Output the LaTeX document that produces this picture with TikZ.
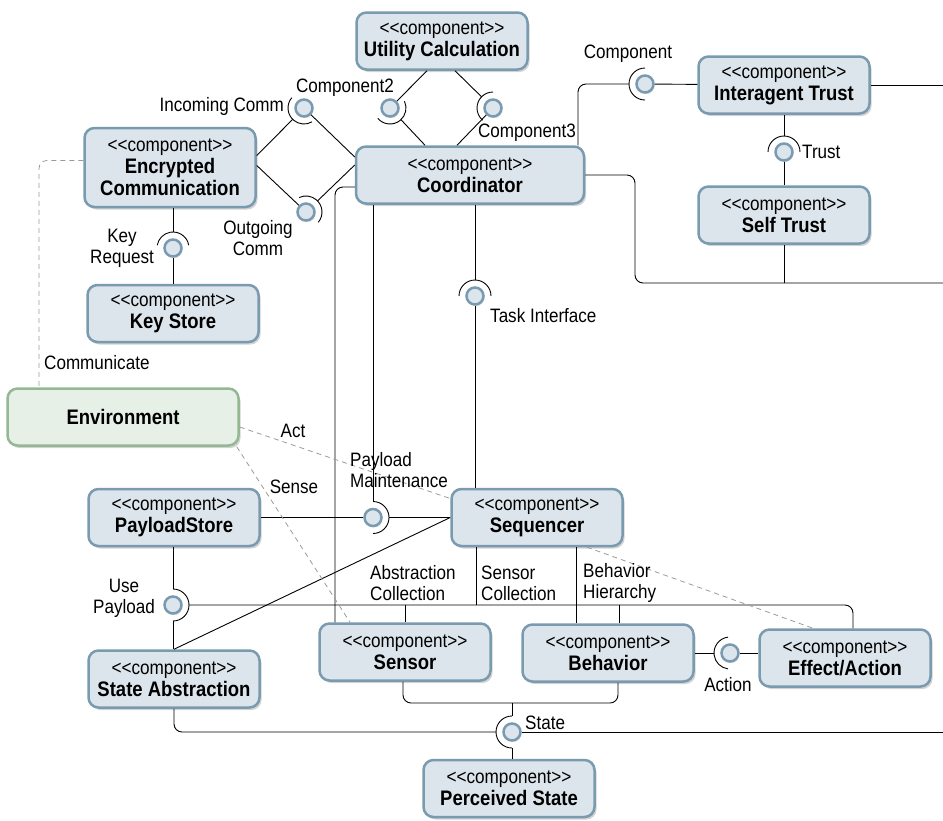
\documentclass[tikz,border=0pt]{standalone}
\usepackage{fontspec}
\setmainfont{Liberation Sans}[FakeStretch=0.88]
\usetikzlibrary{shadows}

\definecolor{compfill}{HTML}{DCE5EC}
\definecolor{compline}{HTML}{7A9BAF}
\definecolor{envfill}{HTML}{E7F0E6}
\definecolor{envline}{HTML}{93B893}
\definecolor{depgray}{HTML}{9A9A9A}

\tikzset{
  comp/.style={draw=compline, fill=compfill, line width=2.5pt, rounded corners=10pt,
    minimum width=171pt, minimum height=57pt, inner sep=2pt, align=center,
    font=\fontsize{19.5}{22}\selectfont,
    drop shadow={shadow xshift=2pt, shadow yshift=-2.5pt, opacity=0.35}},
  envbox/.style={comp, draw=envline, fill=envfill, minimum width=231pt},
  ball/.style={circle, draw=compline, fill=compfill, line width=2.5pt, minimum size=17pt,
    inner sep=0pt, drop shadow={shadow xshift=1pt, shadow yshift=-1.5pt, opacity=0.3}},
  wire/.style={line width=0.9pt},
  dep/.style={draw=depgray, line width=0.8pt, dash pattern=on 5pt off 4pt},
  lbl/.style={font=\fontsize{19.4}{21}\selectfont, inner sep=0pt, align=center}
}
\newcommand{\stereo}{<\kern0pt<component>\kern0pt>}
\newcommand{\cname}[1]{{\fontsize{21}{22}\selectfont\bfseries #1}}

\begin{document}
\begin{tikzpicture}[x=1pt, y=-1pt]
\useasboundingbox (0,0) rectangle (943,820);

%Components
\node[comp] (util) at (442,41) {\stereo\\\cname{Utility Calculation}};
\node[comp, minimum width=228pt] (coord) at (470,175) {\stereo\\\cname{Coordinator}};
\node[comp, minimum height=79pt] (ec) at (170,167.5) {\stereo\\\cname{Encrypted}\\\cname{Communication}};
\node[comp] (it) at (784,85) {\stereo\\\cname{Interagent Trust}};
\node[comp] (st) at (784,215) {\stereo\\\cname{Self Trust}};
\node[comp] (ks) at (173,313.5) {\stereo\\\cname{Key Store}};
\node[envbox] (env) at (123,417) {\cname{Environment}};
\node[comp] (ps) at (174,517.5) {\stereo\\\cname{PayloadStore}};
\node[comp] (seq) at (537,517.5) {\stereo\\\cname{Sequencer}};
\node[comp] (sa) at (174,679) {\stereo\\\cname{State Abstraction}};
\node[comp] (sensor) at (405,652) {\stereo\\\cname{Sensor}};
\node[comp] (beh) at (608,653) {\stereo\\\cname{Behavior}};
\node[comp] (eff) at (845,658) {\stereo\\\cname{Effect/Action}};
\node[comp] (pst) at (509,788.5) {\stereo\\\cname{Perceived State}};

%Interfaces
\node[ball] (inc) at (304,108) {};
\node[ball] (cmp2) at (390,108) {};
\node[ball] (cmp3) at (493,108) {};
\node[ball] (outc) at (306,212) {};
\node[ball] (keyreq) at (173,248) {};
\node[ball] (itc) at (645,84) {};
\node[ball] (trust) at (784,152) {};
\node[ball] (task) at (475,296) {};
\node[ball] (pm) at (373,517.5) {};
\node[ball] (usep) at (173,605) {};
\node[ball] (state) at (512,732) {};
\node[ball] (act) at (730,653) {};

\coordinate (stj) at (512,703);
\coordinate (bendT) at (635,283);
\coordinate (rimIT) at (943,85);
\coordinate (rimST) at (943,283);
\coordinate (rimPS) at (943,732);

%Sockets
\foreach \b/\s/\e in {inc/140/300, cmp2/220/385, cmp3/90/230, outc/-40/115, keyreq/10/170,
    itc/90/270, trust/0/180, task/0/180, pm/-90/90, usep/-90/90, state/90/270, act/97/263}
  \draw[wire] (\b.center) ++(\s:16pt) arc[start angle=\s, end angle=\e, radius=16pt];

%Wires
\draw[wire, shorten >=6.3pt] ([yshift=12pt]ec.east) -- (inc);
\draw[wire] (inc) -- ([yshift=18pt]coord.west);
\draw[wire] ([yshift=2pt]ec.east) -- (outc);
\draw[wire, shorten <=6.3pt] (outc) -- ([yshift=10pt]coord.west);
\draw[wire] ([xshift=-15pt]util.south) -- (cmp2);
\draw[wire, shorten <=6.3pt] (cmp2) -- ([xshift=-45pt]coord.north);
\draw[wire, shorten >=6.3pt] ([xshift=13pt]util.south) -- (cmp3);
\draw[wire] (cmp3) -- ([xshift=-13pt]coord.north);
\draw[wire, shorten >=6.3pt] (ec.south -| keyreq) -- (keyreq);
\draw[wire] (keyreq) -- (keyreq |- ks.north);
\draw[wire, rounded corners=8pt, shorten >=6.3pt] ([xshift=108pt]coord.north) |- (itc);
\draw[wire] (itc) -- (it);
\draw[wire] (it.east) -- (rimIT);
\draw[wire, shorten >=6.3pt] (it) -- (trust);
\draw[wire] (trust) -- (st);
\draw[wire, rounded corners=8pt] (coord.east) -| (bendT) -- (rimST);
\draw[wire] (st) -- (st |- rimST);
\draw[wire, shorten >=6.3pt] (coord.south -| task) -- (task);
\draw[wire] (task) -- (task |- seq.north);
\draw[wire] (pm |- coord.south) -- ([yshift=16pt]pm.center);
\draw[wire] (ps) -- (pm);
\draw[wire, shorten <=6.3pt] (pm) -- (seq);
\draw[wire] (seq.west) -- (sa.north);
\draw[wire, rounded corners=8pt] ([yshift=-12pt]coord.west) -| ([xshift=-70pt]sensor.north);
\draw[wire] (ps.south -| usep) -- ([yshift=16pt]usep.center);
\draw[wire] ([yshift=-16pt]usep.center) -- (sa.north -| usep);
\draw[wire, rounded corners=8pt] ([xshift=16pt]usep.center) -| ([xshift=8pt]eff.north);
\draw[wire] ([xshift=-61pt]seq.south) -- ([xshift=-61pt]seq.south |- usep);
\draw[wire] ([xshift=39pt]seq.south) -- ([xshift=39pt]seq.south |- beh.north);
\draw[wire] (sensor.north |- usep) -- (sensor.north);
\draw[wire] ([xshift=11pt]beh.north |- usep) -- ([xshift=11pt]beh.north);
\draw[wire, rounded corners=8pt] ([xshift=-2pt]sensor.south) |- (stj) -| ([xshift=10pt]beh.south);
\draw[wire] (stj) -- ([yshift=16pt]state.center);
\draw[wire] ([yshift=-16pt]state.center) -- (state |- pst.north);
\draw[wire, rounded corners=8pt] (sa.south) |- ([xshift=-16pt]state.center);
\draw[wire] (state) -- (rimPS);
\draw[wire, shorten >=6.3pt] (beh) -- (act);
\draw[wire] (act) -- (act -| eff.west);

%Dependencies
\draw[dep, rounded corners=8pt] ([yshift=7pt]ec.west) -| ([xshift=-84pt]env.north);
\draw[dep] ([yshift=-10pt]env.east) -- ([yshift=19pt]seq.west);
\draw[dep] ([xshift=-3pt]env.south east) -- ([xshift=-55pt]sensor.north);
\draw[dep] ([xshift=50pt]seq.south) -- ([xshift=-32pt]eff.north);

%Labels
\node[lbl, anchor=east] (incl) at (284,106) {Incoming Comm};
\node[lbl] (cmp2l) at (345,88) {Component2};
\node[lbl] (cmp3l) at (527,133) {Component3};
\node[lbl] (itcl) at (628,54) {Component};
\node[lbl, anchor=west] (trustl) at (802,152) {Trust};
\node[lbl] (outcl) at (258,238) {Outgoing\\Comm};
\node[lbl] (keyreql) at (122,248) {Key\\Request};
\node[lbl, anchor=west] (taskl) at (490,316) {Task Interface};
\node[lbl, anchor=west] (coml) at (44,363) {Communicate};
\node[lbl] (actl) at (293,431) {Act};
\node[lbl] (sensel) at (294,487) {Sense};
\node[lbl, anchor=west, align=left] (pml) at (350,470) {Payload\\Maintenance};
\node[lbl] (usepl) at (124,598) {Use\\Payload};
\node[lbl, anchor=west, align=left] (absl) at (370,583) {Abstraction\\Collection};
\node[lbl, anchor=west, align=left] (senl) at (481,583) {Sensor\\Collection};
\node[lbl, anchor=west, align=left] (behl) at (583,583) {Behavior\\Hierarchy};
\node[lbl] (actionl) at (728,685) {Action};
\node[lbl, anchor=west] (statel) at (525,723) {State};

\end{tikzpicture}
\end{document}
